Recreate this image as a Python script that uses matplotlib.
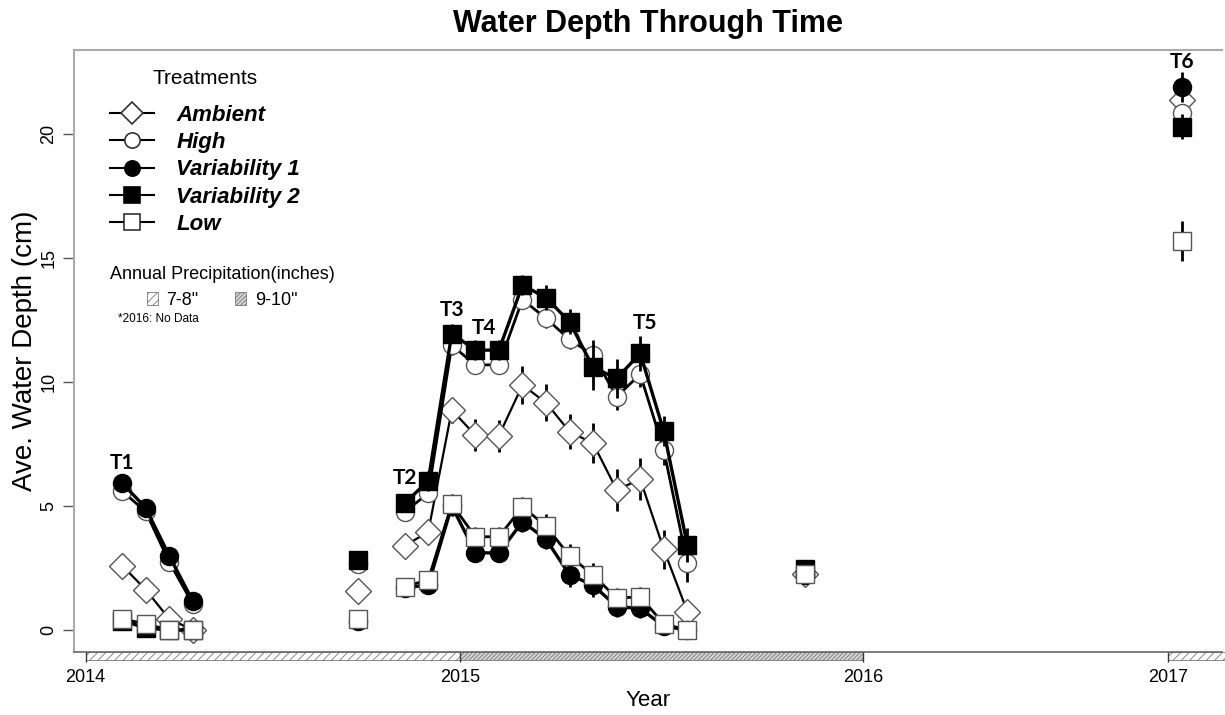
import matplotlib
matplotlib.use("Agg")
import matplotlib.pyplot as plt
from matplotlib.lines import Line2D
from matplotlib.patches import Patch, Rectangle
from matplotlib.transforms import blended_transform_factory

# sampling month index (0 = first 2014 visit); runs split into sampling periods
months = [0, 1, 2, 3, 10, 12, 13, 14, 15, 16, 17, 18, 19, 20, 21, 22, 23, 24, 29, 45]
period = [0, 0, 0, 0, 1, 2, 2, 2, 2, 2, 2, 2, 2, 2, 2, 2, 2, 2, 3, 4]

ambient = [2.6, 1.63, 0.45, 0.0, 1.57, 3.39, 3.96, 8.87, 7.86, 7.84, 9.88, 9.17, 8.0, 7.53,
           5.65, 6.08, 3.25, 0.74, 2.25, 21.4]
high = [5.6, 4.78, 2.75, 1.05, 2.65, 4.77, 5.51, 11.49, 10.69, 10.7, 13.33, 12.57, 11.72, 11.09,
        9.41, 10.32, 7.26, 2.69, 2.3, 20.85]
var1 = [5.93, 4.93, 3.0, 1.17, 0.38, 1.7, 1.82, 5.0, 3.12, 3.1, 4.37, 3.66, 2.22, 1.81,
        0.94, 0.87, 0.15, 0.0, 2.2, 21.9]
var2 = [0.38, 0.08, 0.0, 0.0, 2.82, 5.11, 6.02, 11.96, 11.29, 11.29, 13.91, 13.41, 12.43, 10.59,
        10.15, 11.16, 8.02, 3.43, 2.45, 20.3]
low = [0.45, 0.24, 0.0, 0.0, 0.44, 1.75, 2.02, 5.08, 3.76, 3.76, 4.97, 4.19, 2.98, 2.22,
       1.28, 1.34, 0.24, 0.0, 2.25, 15.7]

# standard errors
ambient_se = [0.2, 0.2, 0.2, 0.2, 0.3, 0.2, 0.3, 0.5, 0.65, 0.65, 0.75, 0.75, 0.7, 0.8,
              0.85, 0.85, 0.8, 0.2, 0.1, 0.3]
high_se = [0.2, 0.2, 0.2, 0.2, 0.2, 0.3, 0.3, 0.4, 0.3, 0.3, 0.4, 0.4, 0.4, 0.6,
           0.55, 0.5, 0.6, 0.75, 0.1, 0.3]
var1_se = [0.2, 0.2, 0.2, 0.2, 0.2, 0.2, 0.3, 0.4, 0.3, 0.3, 0.4, 0.4, 0.5, 0.5,
           0.4, 0.4, 0.2, 0.1, 0.1, 0.6]
var2_se = [0.2, 0.2, 0.1, 0.1, 0.2, 0.3, 0.4, 0.4, 0.4, 0.4, 0.4, 0.5, 0.5, 0.9,
           0.8, 0.7, 0.6, 0.7, 0.1, 0.5]
low_se = [0.2, 0.2, 0.1, 0.1, 0.2, 0.2, 0.3, 0.4, 0.4, 0.4, 0.4, 0.5, 0.5, 0.5,
          0.4, 0.4, 0.2, 0.1, 0.1, 0.8]

treatments = ["Ambient", "High", "Variability 1", "Variability 2", "Low"]
markers = ["D", "o", "o", "s", "s"]
faces = ["white", "white", "black", "black", "white"]
sizes = [13.5, 13, 13, 13, 13]
widths = [1.6, 2.0, 2.4, 2.4, 2.0]
values = [ambient, high, var1, var2, low]
errors = [ambient_se, high_se, var1_se, var2_se, low_se]

year_ticks = [-1.55, 14.35, 31.45, 44.4]
year_labels = ["2014", "2015", "2016", "2017"]

# annual precipitation bands: (start, end, category)
precip_start = [-1.55, 14.35, 44.4]
precip_end = [14.35, 31.45, 47.5]
precip_class = ["7-8\"", "9-10\"", "7-8\""]
precip_hatch = {"7-8\"": "////", "9-10\"": "////////"}
precip_fill = {"7-8\"": "white", "9-10\"": "#d4d4d4"}

t_labels = ["T1", "T2", "T3", "T4", "T5", "T6"]
t_x = [0, 12, 14, 15.35, 22.2, 45]
t_y = [6.73, 6.13, 12.9, 12.2, 12.4, 22.9]

plt.rcParams["hatch.linewidth"] = 0.6

fig = plt.figure(figsize=(12.25, 7.15), dpi=100)
ax = fig.add_axes([74 / 1225, 63 / 715, 1148 / 1225, 602 / 715])

for i, name in enumerate(treatments):
    y = values[i]
    z = 3 + i
    # line segments within each sampling period
    for p in sorted(set(period)):
        xs = [m for m, g in zip(months, period) if g == p]
        ys = [v for v, g in zip(y, period) if g == p]
        if len(xs) > 1:
            ax.plot(xs, ys, color="black", lw=widths[i], zorder=z, solid_capstyle="butt")
    ax.errorbar(months, y, yerr=errors[i], fmt="none", ecolor="black", elinewidth=2,
                capsize=0, zorder=z)
    edge = "black" if faces[i] == "black" else "#555555"
    ax.plot(months, y, linestyle="none", marker=markers[i], markersize=sizes[i],
            markerfacecolor=faces[i], markeredgecolor=edge, markeredgewidth=1.0, zorder=z + 0.5)

for lab, x, y in zip(t_labels, t_x, t_y):
    ax.text(x, y, lab, ha="center", va="center", fontsize=15, fontweight="bold",
            family="Lato", zorder=10)

ax.set_xlim(-2.04, 46.7)
ax.set_ylim(-0.89, 23.4)

ax.set_xticks(year_ticks, year_labels)
ax.set_yticks([0, 5, 10, 15, 20], ["0", "5", "10", "15", "20"])
ax.tick_params(axis="x", length=7, width=1, color="#333333", labelsize=13, pad=5)
ax.tick_params(axis="y", length=8, width=1, color="#555555", labelsize=13, pad=4)
for lbl in ax.get_xticklabels():
    lbl.set_family(["Liberation Sans Narrow", "Liberation Sans"])
for lbl in ax.get_yticklabels():
    lbl.set_rotation(90)
    lbl.set_va("center")
    lbl.set_family("Liberation Sans")

for side in ["top", "left"]:
    ax.spines[side].set_color("#aaaaaa")
    ax.spines[side].set_linewidth(1.5)
ax.spines["right"].set_visible(False)
ax.spines["bottom"].set_color("#666666")
ax.spines["bottom"].set_linewidth(1.2)

# precipitation bands under the x axis
trans = blended_transform_factory(ax.transData, ax.transAxes)
for x0, x1, c in zip(precip_start, precip_end, precip_class):
    ax.add_patch(Rectangle((x0, -0.014), x1 - x0, 0.014, transform=trans, clip_on=False,
                           facecolor=precip_fill[c], edgecolor="#777777", lw=0.6,
                           hatch=precip_hatch[c], zorder=1))

ax.set_ylabel("Ave. Water Depth (cm)", fontsize=20, family="Liberation Sans", labelpad=2)
ax.set_xlabel("Year", fontsize=16, family=["Liberation Sans Narrow", "Liberation Sans"],
              labelpad=3)
fig.suptitle("Water Depth Through Time", fontsize=22, fontweight="bold",
             family="Liberation Sans", x=648 / 1225, y=0.988, va="top")

handles = []
for i, name in enumerate(treatments):
    edge = "black" if faces[i] == "black" else "#333333"
    handles.append(Line2D([0], [0], color="black", lw=1.5, marker=markers[i],
                          markersize=sizes[i] - 2, markerfacecolor=faces[i],
                          markeredgecolor=edge, markeredgewidth=1.2))
leg1 = ax.legend(handles, treatments, loc="upper left", bbox_to_anchor=(0.031, 0.968),
                 frameon=False, borderpad=0, borderaxespad=0, handlelength=2.0,
                 handletextpad=1.0, labelspacing=0.28, title="Treatments",
                 prop={"family": "Liberation Sans", "weight": "bold", "style": "italic",
                       "size": 16},
                 title_fontproperties={"family": "Liberation Sans", "size": 15})
leg1._legend_box.sep = 12
ax.add_artist(leg1)

precip_handles = [Patch(facecolor=precip_fill[c], edgecolor="#777777", hatch=precip_hatch[c],
                        lw=0.6) for c in ["7-8\"", "9-10\""]]
leg2 = ax.legend(precip_handles, ["7-8\"", "9-10\""], loc="upper left",
                 bbox_to_anchor=(0.031, 0.642), ncol=2, frameon=False, borderpad=0,
                 borderaxespad=0, handlelength=0.6, handleheight=0.7, handletextpad=0.5,
                 columnspacing=2.0, title="Annual Precipitation(inches)",
                 prop={"family": "Liberation Sans", "size": 13},
                 title_fontproperties={"family": "Liberation Sans", "size": 13})
ax.text(0.038, 0.553, "*2016: No Data", transform=ax.transAxes, fontsize=8.5,
        family="Liberation Sans", va="center")

fig.savefig("out.png", dpi=100)
